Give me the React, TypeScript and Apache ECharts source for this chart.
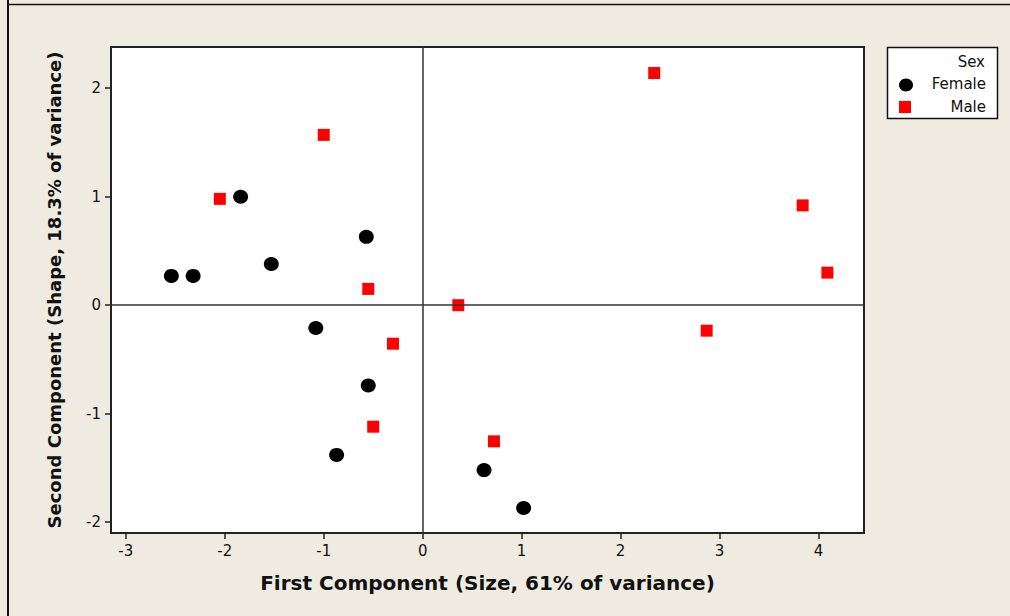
import React, { useEffect, useRef } from "react";
import * as echarts from "echarts";

const femaleX = [-2.54, -2.32, -1.84, -1.53, -0.57, -1.08, -0.55, -0.87, 0.62, 1.02];
const femaleY = [0.27, 0.27, 1.0, 0.38, 0.63, -0.21, -0.74, -1.38, -1.52, -1.87];
const maleX = [-2.05, -1.0, -0.55, -0.3, -0.5, 0.36, 0.72, 2.34, 3.84, 4.09, 2.87];
const maleY = [0.98, 1.57, 0.15, -0.355, -1.12, 0.0, -1.255, 2.14, 0.92, 0.3, -0.235];
const xTicks = [-3, -2, -1, 0, 1, 2, 3, 4];
const yTicks = [-2, -1, 0, 1, 2];
const legendTitle = "Sex";
const seriesNames = ["Female", "Male"];

const FONT = "DejaVu Sans";

export default function App() {
  const ref = useRef<HTMLDivElement>(null);
  useEffect(() => {
    if (!ref.current) return;
    const chart = echarts.init(ref.current, null, { renderer: "svg" });
    const female = femaleX.map((x, i) => [x, femaleY[i]]);
    const male = maleX.map((x, i) => [x, maleY[i]]);
    const tickStyle = { show: true, length: 6, lineStyle: { color: "#222", width: 1.5 } };
    const lineStyle = { show: true, onZero: false, lineStyle: { color: "#222", width: 2 } };
    chart.setOption({
      animation: false,
      backgroundColor: "#efebe0",
      grid: {
        left: 111,
        top: 47,
        right: 146,
        bottom: 83,
        show: true,
        backgroundColor: "#ffffff",
        borderColor: "#222",
        borderWidth: 2,
      },
      xAxis: {
        type: "value",
        min: -3.15,
        max: 4.46,
        name: "First Component (Size, 61% of variance)",
        nameLocation: "middle",
        nameGap: 40,
        nameTextStyle: { fontFamily: FONT, fontWeight: "bold", fontSize: 20, color: "#111" },
        axisLine: lineStyle,
        axisTick: { ...tickStyle, customValues: xTicks },
        splitLine: { show: false },
        axisLabel: { fontFamily: FONT, fontSize: 15, color: "#111", margin: 10, customValues: xTicks },
      },
      yAxis: {
        type: "value",
        min: -2.1,
        max: 2.38,
        name: "Second Component (Shape, 18.3% of variance)",
        nameLocation: "middle",
        nameGap: 48,
        nameTextStyle: { fontFamily: FONT, fontWeight: "bold", fontSize: 18, color: "#111" },
        axisLine: lineStyle,
        axisTick: { ...tickStyle, customValues: yTicks },
        splitLine: { show: false },
        axisLabel: { fontFamily: FONT, fontSize: 15, color: "#111", margin: 10, customValues: yTicks },
      },
      series: [
        {
          name: seriesNames[0],
          type: "scatter",
          data: female,
          symbol: "circle",
          symbolSize: [15, 14],
          itemStyle: { color: "#000000", opacity: 1 },
          z: 3,
          markLine: {
            silent: true,
            symbol: "none",
            label: { show: false },
            lineStyle: { color: "#333", width: 1.5, type: "solid", opacity: 1 },
            data: [{ xAxis: 0 }, { yAxis: 0 }],
          },
        },
        {
          name: seriesNames[1],
          type: "scatter",
          data: male,
          symbol: "rect",
          symbolSize: 12,
          itemStyle: { color: "#ff0000", opacity: 1 },
          z: 3,
        },
      ],
      graphic: [
        { type: "line", shape: { x1: 8, y1: 0, x2: 8, y2: 616 }, style: { stroke: "#111", lineWidth: 2 } },
        { type: "line", shape: { x1: 7, y1: 4.5, x2: 1010, y2: 4.5 }, style: { stroke: "#111", lineWidth: 1.5 } },
        {
          type: "rect",
          shape: { x: 887.5, y: 47.5, width: 110, height: 71 },
          style: { fill: "#ffffff", stroke: "#111", lineWidth: 1.5 },
        },
        {
          type: "text",
          x: 985,
          y: 62,
          style: { text: legendTitle, fill: "#111", font: `15px "${FONT}"`, textAlign: "right", textVerticalAlign: "middle" },
        },
        {
          type: "text",
          x: 986,
          y: 84,
          style: { text: seriesNames[0], fill: "#111", font: `15px "${FONT}"`, textAlign: "right", textVerticalAlign: "middle" },
        },
        {
          type: "text",
          x: 986,
          y: 107,
          style: { text: seriesNames[1], fill: "#111", font: `15px "${FONT}"`, textAlign: "right", textVerticalAlign: "middle" },
        },
        { type: "ellipse", shape: { cx: 906, cy: 85, rx: 7, ry: 6.5 }, style: { fill: "#000" } },
        { type: "rect", shape: { x: 899, y: 101, width: 12, height: 12 }, style: { fill: "#ff0000" } },
      ],
    });
    return () => chart.dispose();
  }, []);
  return (
    <div
      ref={ref}
      style={{ position: "fixed", left: 0, top: 0, width: 1010, height: 616 }}
    />
  );
}
